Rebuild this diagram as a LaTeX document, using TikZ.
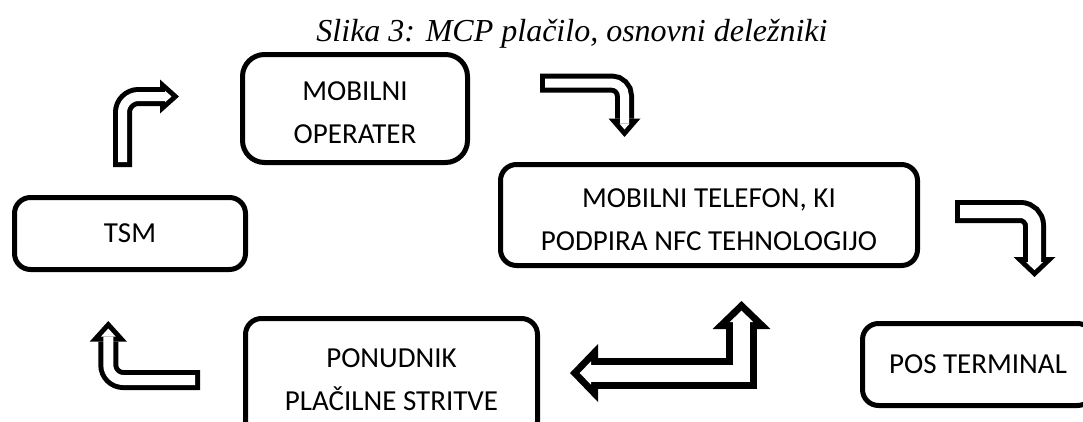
\documentclass[tikz,border=0pt]{standalone}
\usepackage{fontspec}
\setmainfont{Carlito}
\newfontfamily\captionfont{Liberation Serif}
\usetikzlibrary{positioning}
\usetikzlibrary{arrows.meta}

\begin{document}
\begin{tikzpicture}[x=1pt,y=-1pt,
    box/.style={draw=black, line width=5pt, rounded corners=16pt, align=center,
        inner sep=0pt, font=\fontsize{29}{43}\selectfont},
    fatarrow/.style n args={3}{draw=black, line width=#1,
        -{Triangle[length=#2, width=#3, line width=0pt]}},
    fatinner/.style n args={5}{draw=white, line width=#1, shorten <=#5, shorten >=#4,
        -{Triangle[length=#2, width=#3, line width=0pt]}},
    fatboth/.style n args={3}{draw=black, line width=#1, line join=miter,
        {Triangle[length=#2, width=#3, line width=0pt]}-{Triangle[length=#2, width=#3, line width=0pt]}},
    fatbothinner/.style n args={4}{draw=white, line width=#1, shorten <=#4, shorten >=#4,
        {Triangle[length=#2, width=#3, line width=0pt]}-{Triangle[length=#2, width=#3, line width=0pt]}}]
\useasboundingbox (0,0) rectangle (1083,421);

\node[anchor=base, font=\captionfont\itshape\fontsize{32}{38}\selectfont] (title) at (572,41) {Slika 3: MCP plačilo, osnovni deležniki};

\node[box, rounded corners=22pt, minimum width=225pt, minimum height=108pt, text height=69pt, text depth=0pt] (operater) at (355,108.5) {MOBILNI\\OPERATER};
\node[box, minimum width=231pt, minimum height=72pt] (tsm) at (130,233.5) {TSM};
\node[box, minimum width=417pt, minimum height=101pt, text height=70pt, text depth=0pt] (telefon) at (709,215) {MOBILNI TELEFON, KI\\PODPIRA NFC TEHNOLOGIJO};
\node[box, minimum width=292pt, minimum height=119pt, text height=64pt, text depth=0pt] (ponudnik) at (391.5,378) {PONUDNIK\\PLAČILNE STRITVE};
\node[box, minimum width=231pt, minimum height=82pt] (pos) at (978,364.5) {POS TERMINAL};

% arrow ends
\coordinate (tsmout) at (122.5,167);
\coordinate (operaterin) at (179,96.5);
\coordinate (operaterout) at (540,83);
\coordinate (telefonin) at (624.5,137);
\coordinate (telefonout) at (955,211.5);
\coordinate (posin) at (1034.5,277);
\coordinate (ponudnikout) at (200,380);
\coordinate (tsmin) at (108.3,321);
\coordinate (ponudnikin) at (570,373);
\coordinate (telefonback) at (741.5,301);

\draw[rounded corners=16pt, fatarrow={19pt}{19pt}{34pt},
    postaction={fatinner={9pt}{6.5pt}{11.6pt}{7.5pt}{5pt}}] (tsmout) |- (operaterin);
\draw[rounded corners=13pt, fatarrow={19pt}{18.5pt}{32pt},
    postaction={fatinner={9pt}{5.9pt}{10.2pt}{7.6pt}{5pt}}] (operaterout) -| (telefonin);
\draw[rounded corners=14pt, fatarrow={23pt}{20pt}{42pt},
    postaction={fatinner={13pt}{8.1pt}{17pt}{6.9pt}{5pt}}] (telefonout) -| (posin);
\draw[rounded corners=15pt, fatarrow={20pt}{20.7pt}{37.4pt},
    postaction={fatinner={10pt}{8.2pt}{14.8pt}{7.5pt}{5pt}}] (ponudnikout) -| (tsmin);
\draw[fatboth={31pt}{28pt}{58pt},
    postaction={fatbothinner={17pt}{11.3pt}{23.4pt}{9.7pt}}] (ponudnikin) -| (telefonback);
\end{tikzpicture}
\end{document}
